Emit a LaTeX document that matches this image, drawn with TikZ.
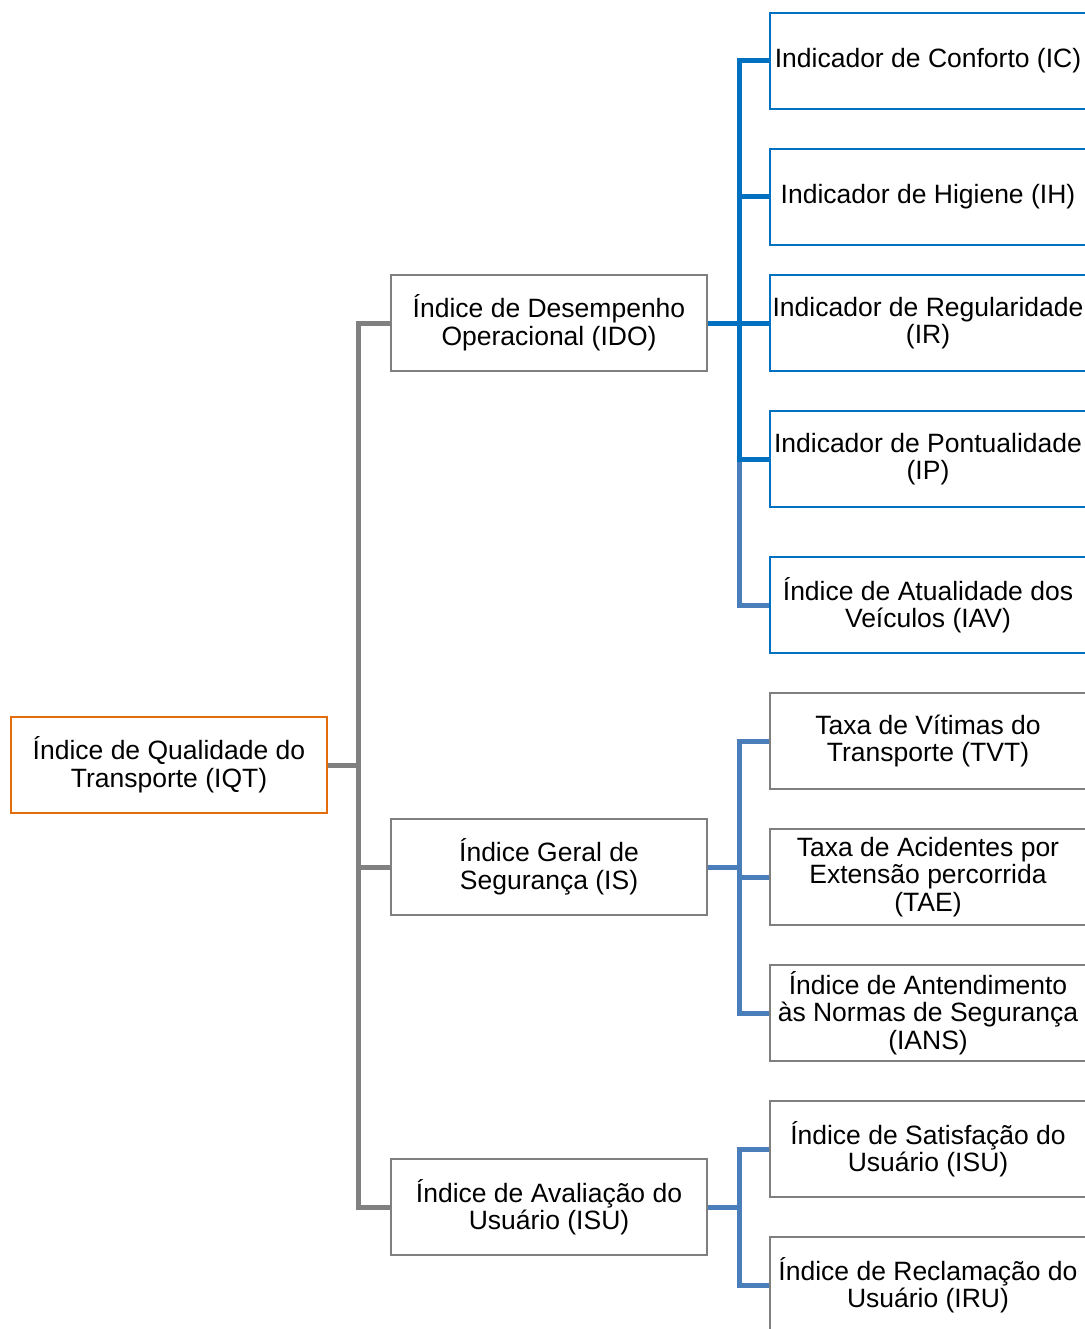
\documentclass[tikz,border=0pt]{standalone}
\usepackage{fontspec}
\setmainfont{Liberation Sans}
\definecolor{orangeb}{HTML}{E46C0A}
\definecolor{blueb}{HTML}{0070C0}
\definecolor{steelb}{HTML}{4A7EBB}
\definecolor{grayb}{HTML}{808080}
\definecolor{grayl}{HTML}{7F7F7F}

\begin{document}
\begin{tikzpicture}[x=1pt, y=-1pt,
  box/.style={draw=grayl, line width=1.5pt, minimum width=316pt, minimum height=96pt,
    inner sep=0pt, align=center, font=\fontsize{26.5}{27.5}\selectfont},
  rootbox/.style={box, draw=orangeb},
  bluebox/.style={box, draw=blueb},
  grayline/.style={draw=grayb, line width=5pt, line join=miter},
  blueline/.style={draw=blueb, line width=5pt, line join=miter},
  steelline/.style={draw=steelb, line width=5pt, line join=miter}]
\useasboundingbox (0,0) rectangle (1084,1329);

\node[rootbox] (iqt) at (169,765) {Índice de Qualidade do\\Transporte (IQT)};

\node[box] (ido) at (549,323) {Índice de Desempenho\\Operacional (IDO)};
\node[box] (is)  at (549,867) {Índice Geral de\\Segurança (IS)};
\node[box] (isu) at (549,1207) {Índice de Avaliação do\\Usuário (ISU)};

\node[bluebox] (ic)  at (928,61)  {Indicador de Conforto (IC)};
\node[bluebox] (ih)  at (928,197) {Indicador de Higiene (IH)};
\node[bluebox] (ir)  at (928,323) {Indicador de Regularidade\\(IR)};
\node[bluebox] (ip)  at (928,459) {Indicador de Pontualidade\\(IP)};
\node[bluebox] (iav) at (928,605) {Índice de Atualidade dos\\Veículos (IAV)};

\node[box] (tvt)  at (928,741)  {Taxa de Vítimas do\\Transporte (TVT)};
\node[box] (tae)  at (928,877)  {Taxa de Acidentes por\\Extensão percorrida\\(TAE)};
\node[box] (ians) at (928,1013) {Índice de Antendimento\\às Normas de Segurança\\(IANS)};

\node[box] (isat) at (928,1149) {Índice de Satisfação do\\Usuário (ISU)};
\node[box] (iru)  at (928,1285) {Índice de Reclamação do\\Usuário (IRU)};

\coordinate (ta) at (358,0);
\coordinate (tb) at (739,0);

\draw[grayline] (ido.west) -- (ido.west -| ta) -- (isu.west -| ta) -- (isu.west);
\draw[grayline] (iqt.east) -- (iqt.east -| ta);
\draw[grayline] (is.west) -- (is.west -| ta);

\draw[steelline] (ip.west -| tb) -- (iav.west -| tb) -- (iav.west);
\draw[blueline] (ic.west) -- (ic.west -| tb) -- (ip.west -| tb) -- (ip.west);
\draw[blueline] (ih.west) -- (ih.west -| tb);
\draw[blueline] (ido.east) -- (ir.west);

\draw[steelline] (tvt.west) -- (tvt.west -| tb) -- (ians.west -| tb) -- (ians.west);
\draw[steelline] (is.east) -- (is.east -| tb);
\draw[steelline] (tae.west) -- (tae.west -| tb);

\draw[steelline] (isat.west) -- (isat.west -| tb) -- (iru.west -| tb) -- (iru.west);
\draw[steelline] (isu.east) -- (isu.east -| tb);
\end{tikzpicture}
\end{document}
